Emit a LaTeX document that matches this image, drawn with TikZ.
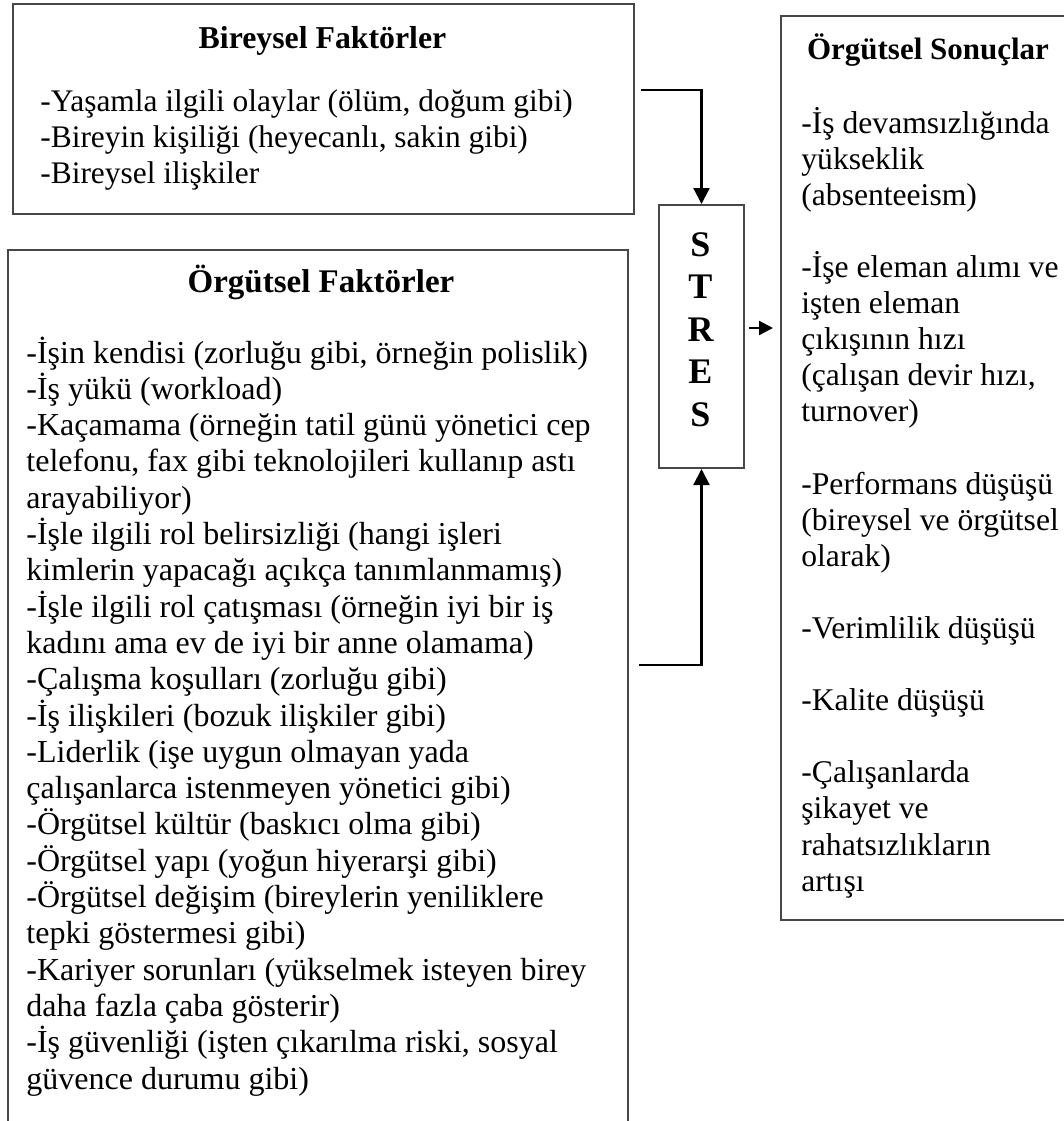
\documentclass[tikz,border=0pt]{standalone}
\usepackage{fontspec}
\setmainfont{Liberation Serif}
\usetikzlibrary{arrows.meta}
\tikzset{
  box/.style={draw=black!72, line width=1pt, inner sep=0pt, anchor=north west},
  conn/.style={draw=black, line width=1.1pt, -{Triangle[length=8pt,width=8pt]}},
  shortarr/.style={draw=black, line width=1.1pt, -{Triangle[length=7pt,width=7pt]}},
  body/.style={inner sep=0pt, anchor=base west, font=\fontsize{15.5}{18.15}\selectfont},
  ttl/.style={inner sep=0pt, anchor=base, font=\fontsize{15.5}{18.15}\selectfont\bfseries},
  letter/.style={inner sep=0pt, anchor=base, font=\fontsize{18}{21}\selectfont\bfseries}
}
\begin{document}
\begin{tikzpicture}[x=0.5pt,y=-0.5pt]
\useasboundingbox (0,0) rectangle (1064,1121);
\clip (0,0) rectangle (1064,1121);
\fill[white] (0,0) rectangle (1064,1121);

% boxes
\node[box, minimum width=310.5pt, minimum height=105pt] (bir) at (12,3) {};
\node[box, minimum width=310pt, minimum height=445pt] (org) at (7,249) {};
\node[box, minimum width=42.5pt, minimum height=131.5pt] (stres) at (658,204) {};
\node[box, minimum width=148pt, minimum height=452pt] (son) at (780,15) {};

% Bireysel Faktorler
\node[ttl, font=\fontsize{15.9}{18.15}\selectfont\bfseries] (birT) at (322.5,48) {Bireysel Faktörler};
\foreach \t [count=\i from 0] in {
  {-Yaşamla ilgili olaylar (ölüm, doğum gibi)},
  {-Bireyin kişiliği (heyecanlı, sakin gibi)},
  {-Bireysel ilişkiler}}
  \node[body, font=\fontsize{15.7}{18.15}\selectfont] (b\i) at (40,{111+36.3*\i}) {\t};

% Orgutsel Faktorler
\node[ttl, font=\fontsize{16.5}{18.15}\selectfont\bfseries] (orgT) at (321,292) {Örgütsel Faktörler};
\foreach \t [count=\i from 0] in {
  {-İşin kendisi (zorluğu gibi, örneğin polislik)},
  {-İş yükü (workload)},
  {-Kaçamama (örneğin tatil günü yönetici cep},
  {telefonu, fax gibi teknolojileri kullanıp astı},
  {arayabiliyor)},
  {-İşle ilgili rol belirsizliği (hangi işleri},
  {kimlerin yapacağı açıkça tanımlanmamış)},
  {-İşle ilgili rol çatışması (örneğin iyi bir iş},
  {kadını ama ev de iyi bir anne olamama)},
  {-Çalışma koşulları (zorluğu gibi)},
  {-İş ilişkileri (bozuk ilişkiler gibi)},
  {-Liderlik (işe uygun olmayan yada},
  {çalışanlarca istenmeyen yönetici gibi)},
  {-Örgütsel kültür (baskıcı olma gibi)},
  {-Örgütsel yapı (yoğun hiyerarşi gibi)},
  {-Örgütsel değişim (bireylerin yeniliklere},
  {tepki göstermesi gibi)},
  {-Kariyer sorunları (yükselmek isteyen birey},
  {daha fazla çaba gösterir)},
  {-İş güvenliği (işten çıkarılma riski, sosyal},
  {güvence durumu gibi)}}
  \node[body, font=\fontsize{16}{18.15}\selectfont] (o\i) at (26,{363+36.3*\i}) {\t};

% STRES
\foreach \t [count=\i from 0] in {S,T,R,E,S}
  \node[letter] (s\i) at (700.5,{256+42.5*\i}) {\t};

% Orgutsel Sonuclar
\node[ttl] (sonT) at (928,59) {Örgütsel Sonuçlar};
\foreach \k/\t in {
  0/{-İş devamsızlığında},
  1/{yükseklik},
  2/{(absenteeism)},
  4/{-İşe eleman alımı ve},
  5/{işten eleman},
  6/{çıkışının hızı},
  7/{(çalışan devir hızı,},
  8/{turnover)},
  10/{-Performans düşüşü},
  11/{(bireysel ve örgütsel},
  12/{olarak)},
  14/{-Verimlilik düşüşü},
  16/{-Kalite düşüşü},
  18/{-Çalışanlarda},
  19/{şikayet ve},
  20/{rahatsızlıkların},
  21/{artışı}}
  \node[body, font=\fontsize{15.8}{18.15}\selectfont] (r\k) at (801,{133+36.1*\k}) {\t};

% connectors
\coordinate (c1) at (641,90);
\coordinate (c2) at (639,665);
\draw[conn] (c1) -| (stres.north);
\draw[conn] (c2) -| (stres.south);
\draw[shortarr] ([shift={(2pt,4.25pt)}]stres.east) -- ([shift={(-3.5pt,4.25pt)}]stres.east -| son.west);
\end{tikzpicture}
\end{document}
